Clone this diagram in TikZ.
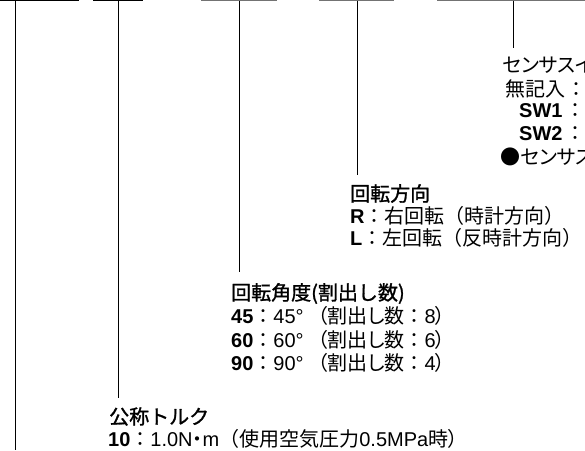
\documentclass[tikz,border=0pt]{standalone}
\usepackage{fontspec}
\setmainfont{Noto Sans CJK JP}
\newfontfamily\lat{Liberation Sans}
\newfontfamily\pj[RawFeature=+palt]{Noto Sans CJK JP}
\newfontfamily\hdfont[FakeBold=1.3]{Noto Sans CJK JP}
\newcommand{\lb}[1]{{\lat\fontsize{20}{22}\selectfont\bfseries #1}}
\newcommand{\lr}[1]{{\lat\fontsize{20}{22}\selectfont #1}}
\begin{document}
\begin{tikzpicture}[x=1pt,y=-1pt,
  bar/.style={line width=1pt},
  gbar/.style={line width=1pt,draw=black!55},
  lead/.style={line width=0.8pt},
  txt/.style={anchor=west,inner sep=0pt,font=\fontsize{20}{22}\selectfont},
  hd/.style={txt,font=\fontsize{20}{22}\selectfont\hdfont}]
\useasboundingbox (0,0) rectangle (585,450);
% top bars
\draw[bar] (0,0.5) -- (79,0.5);
\draw[bar] (93,0.5) -- (143,0.5);
\draw[gbar] (201,0.5) -- (277,0.5);
\draw[gbar] (319,0.5) -- (394,0.5);
\draw[gbar] (437,0.5) -- (585,0.5);
% texts
\node[txt] (s1) at (502,65) {\pj センサスイ};
\node[txt] (s2) at (505,88.5) {無記入\hspace{6pt}{\pj ：}};
\node[txt] (s3) at (519,111) {\lb{SW1}\hspace{8pt}{\pj ：}};
\node[txt] (s4) at (519,134) {\lb{SW2}\hspace{8pt}{\pj ：}};
\node[txt] (s5) at (500,157) {\pj ●センサス};

\node[hd] (r1) at (350,193.5) {回転方向};
\node[txt] (r2) at (350,215.5) {\lb{R}：右回転（時計方向）};
\node[txt] (r3) at (350,237.5) {\lb{L}：左回転（反時計方向）};

\node[hd] (a1) at (231,293.5) {回転角度(割出し数)};
\node[txt] (a2) at (231,316) {\lb{45}：\lr{45°}\hspace{14pt}{\pj （割出し数}：\lr{8}{\pj ）}};
\node[txt] (a3) at (231,339.5) {\lb{60}：\lr{60°}\hspace{14pt}{\pj （割出し数}：\lr{6}{\pj ）}};
\node[txt] (a4) at (231,363) {\lb{90}：\lr{90°}\hspace{14pt}{\pj （割出し数}：\lr{4}{\pj ）}};

\node[hd] (t1) at (109,416.5) {公称トルク};
\node[txt] (t2) at (108,438.5) {\lb{10}：\lr{1.0N}{\pj ・}\lr{m}（使用空気圧力\lr{0.5MPa}時{\pj ）}};
% leaders
\coordinate (c1) at (15,0.5);
\coordinate (c1b) at (15,450);
\draw[lead] (c1) -- (c1b);
\coordinate (c2) at (118,0.5);
\draw[lead] (c2) -- (c2 |- 0,398);
\coordinate (c3) at (239,0.5);
\draw[lead] (c3) -- (c3 |- 0,272);
\coordinate (c4) at (357,0.5);
\draw[lead] (c4) -- (c4 |- 0,175);
\coordinate (c5) at (513,0.5);
\draw[lead] (c5) -- (c5 |- 0,48);
\end{tikzpicture}
\end{document}
